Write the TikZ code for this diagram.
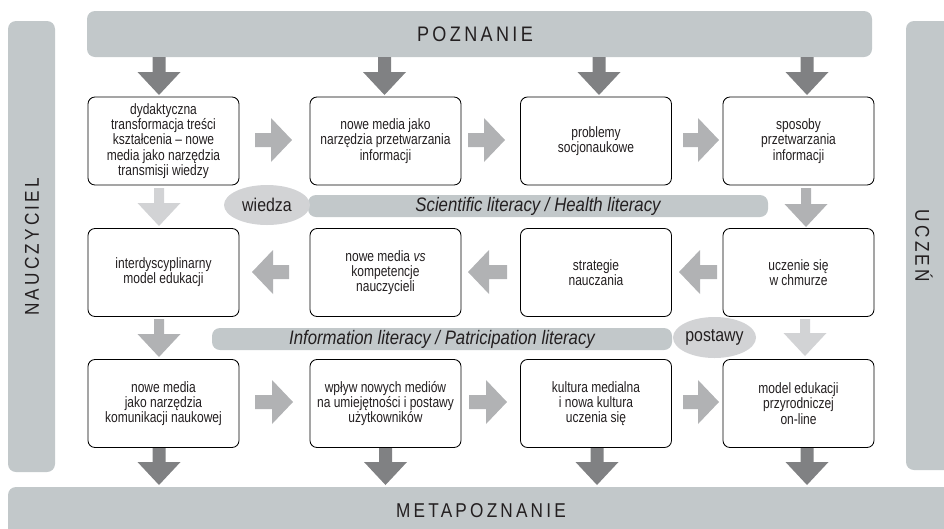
\documentclass[tikz,border=0pt]{standalone}
\usepackage{fontspec}
\setmainfont[FakeStretch=0.86]{Liberation Sans}
\newfontfamily\boxfont[FakeStretch=0.8]{Liberation Sans}
\newfontfamily\titlefont[FakeStretch=0.86,LetterSpace=16]{Liberation Sans}
\usetikzlibrary{shapes.geometric}
\definecolor{barc}{RGB}{194,200,202}
\definecolor{darkc}{RGB}{128,129,131}
\definecolor{midc}{RGB}{177,178,180}
\definecolor{lightc}{RGB}{210,211,213}
\definecolor{ellc}{RGB}{210,211,213}
\definecolor{txtc}{RGB}{35,31,32}
% vertical (downward) block arrow: cx, ytail, ytip, half shaft, colour
\newcommand\mydarrow[5]{%
  \fill[#5] ({#1-#4},#2) -- ({#1+#4},#2) -- ({#1+#4},{#3-23}) -- ({#1+21.5},{#3-23})
    -- (#1,#3) -- ({#1-21.5},{#3-23}) -- ({#1-#4},{#3-23}) -- cycle;}
% horizontal block arrow: xtail, xtip, cy, colour
\newcommand\myharrow[4]{%
  \pgfmathsetmacro\myhb{#2-21*sign(#2-#1)}%
  \fill[#4] (#1,{#3-7}) -- (\myhb,{#3-7}) -- (\myhb,{#3-22}) -- (#2,#3)
    -- (\myhb,{#3+22}) -- (\myhb,{#3+7}) -- (#1,{#3+7}) -- cycle;}
\begin{document}
\begin{tikzpicture}[x=1pt,y=-1pt,
  box/.style={draw=black,line width=0.85pt,rounded corners=7pt,fill=white,
    minimum width=151pt,minimum height=88pt,align=center,inner sep=0pt,
    text=txtc,font=\boxfont\fontsize{15}{15.2}\selectfont},
  bar/.style={fill=barc,rounded corners=8pt,inner sep=0pt},
  ttl/.style={text=txtc,inner sep=0pt,font=\titlefont\fontsize{21}{24}\selectfont},
  band/.style={fill=barc,rounded corners=8pt,inner sep=0pt,minimum height=22pt,
    text=txtc,font=\fontsize{19.5}{20}\selectfont\itshape},
  ell/.style={ellipse,fill=ellc,inner sep=0pt,text=txtc,
    font=\fontsize{18.5}{20}\selectfont}]
\useasboundingbox (0,0) rectangle (944,528);
\clip (0,0) rectangle (944,528);
% side / top / bottom bars
\node[bar,minimum width=785pt,minimum height=46pt] (pozn) at (479.5,34) {};
\node[ttl] (pozt) at (475,34.5) {POZNANIE};
\node[bar,minimum width=952pt,minimum height=58pt] (meta) at (484,516) {};
\node[ttl,font=\titlefont\fontsize{20}{24}\selectfont] (metat) at (481,511) {METAPOZNANIE};
\node[bar,rotate=90,minimum width=451pt,minimum height=47pt] (nauc) at (31.5,246.5) {};
\node[ttl,rotate=90,font=\titlefont\fontsize{20}{24}\selectfont] (nauct) at (32,247) {NAUCZYCIEL};
\node[bar,rotate=-90,minimum width=449pt,minimum height=54pt] (ucz) at (933,245.5) {};
\node[ttl,rotate=-90,font=\titlefont\fontsize{20}{24}\selectfont] (uczt) at (924,246) {UCZEŃ};
% bands
\node[band,minimum width=460pt] (sci) at (538,206) {Scientific literacy / Health literacy};
\node[band,minimum width=460pt] (inf) at (442,339) {Information literacy / Patricipation literacy};
\node[ell,minimum width=86pt,minimum height=40pt] (wiedza) at (267,205) {wiedza};
\node[ell,minimum width=83pt,minimum height=41pt] (postawy) at (714.5,337.5) {postawy};
% boxes
\node[box] (b11) at (163.5,141) {dydaktyczna\\transformacja treści\\kształcenia – nowe\\media jako narzędzia\\transmisji wiedzy};
\node[box] (b12) at (385.5,141) {nowe media jako\\narzędzia przetwarzania\\informacji};
\node[box] (b13) at (596,141) {problemy\\socjonaukowe};
\node[box] (b14) at (798.5,141) {sposoby\\przetwarzania\\informacji};
\node[box] (b21) at (163.5,272.5) {interdyscyplinarny\\model edukacji};
\node[box] (b22) at (385.5,272.5) {nowe media \textit{vs}\\kompetencje\\nauczycieli};
\node[box] (b23) at (596,272.5) {strategie\\nauczania};
\node[box] (b24) at (798.5,272.5) {uczenie się\\w chmurze};
\node[box] (b31) at (163.5,403.5) {nowe media\\jako narzędzia\\komunikacji naukowej};
\node[box] (b32) at (385.5,403.5) {wpływ nowych mediów\\na umiejętności i postawy\\użytkowników};
\node[box] (b33) at (596,403.5) {kultura medialna\\i nowa kultura\\uczenia się};
\node[box] (b34) at (798.5,403.5) {model edukacji\\przyrodniczej\\on-line};
% dark arrows from POZNANIE and to METAPOZNANIE
\mydarrow{159}{57}{95}{6.5}{darkc}
\mydarrow{384.5}{57}{95}{6.5}{darkc}
\mydarrow{599}{57}{95}{6.5}{darkc}
\mydarrow{807}{57}{95}{6.5}{darkc}
\mydarrow{159}{448}{485}{6.5}{darkc}
\mydarrow{385.5}{448}{485}{6.5}{darkc}
\mydarrow{597}{448}{485}{6.5}{darkc}
\mydarrow{807}{448}{485}{6.5}{darkc}
% vertical arrows between rows
\mydarrow{159}{188}{226}{5}{lightc}
\mydarrow{159}{319}{357}{5}{midc}
\mydarrow{806}{188}{227}{5}{midc}
\mydarrow{805}{319}{356}{5}{lightc}
% horizontal arrows
\myharrow{255}{292}{140}{midc}
\myharrow{468}{505}{140}{midc}
\myharrow{683}{719}{140}{midc}
\myharrow{289}{252}{272}{midc}
\myharrow{507}{468}{272}{midc}
\myharrow{717}{679}{272}{midc}
\myharrow{255}{293}{402}{midc}
\myharrow{469}{507}{402}{midc}
\myharrow{683}{719}{402}{midc}
\end{tikzpicture}
\end{document}
